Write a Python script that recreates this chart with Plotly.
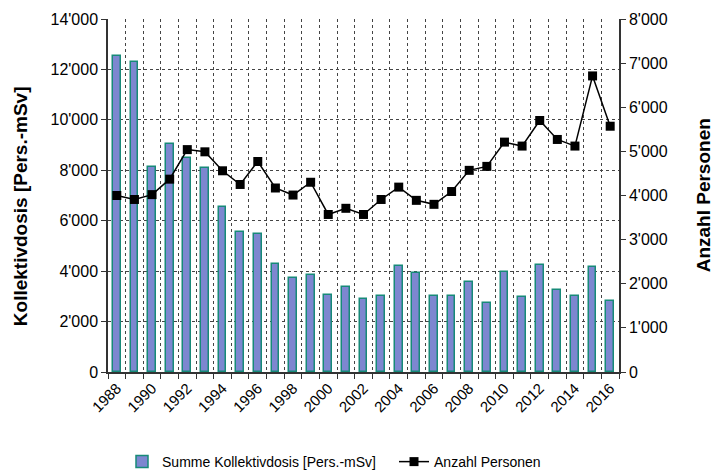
import plotly.graph_objects as go

years = list(range(1988, 2017))
kollektivdosis = [12520, 12300, 8140, 9060, 8500, 8110, 6530, 5540, 5480, 4300,
                  3740, 3850, 3060, 3370, 2900, 3000, 4190, 3930, 3000, 3000,
                  3560, 2740, 3950, 2960, 4250, 3240, 3020, 4170, 2830]
anzahl_personen = [4000, 3910, 4020, 4370, 5040, 4990, 4560, 4250, 4770, 4170,
                   4010, 4300, 3570, 3710, 3570, 3910, 4190, 3890, 3800, 4090,
                   4570, 4660, 5210, 5120, 5700, 5270, 5120, 6710, 5570]
tick_years = list(range(1988, 2017, 2))
tick_labels = [str(y) for y in tick_years]
boundaries = [y + 0.5 for y in range(1987, 2017)]

font_family = "Liberation Sans, Arial, sans-serif"

fig = go.Figure()
fig.add_trace(go.Bar(
    x=years, y=kollektivdosis, name="Summe Kollektivdosis [Pers.-mSv]",
    width=0.44,
    marker=dict(color="#7d87d0", line=dict(color="#178a78", width=1.5)),
    yaxis="y", legend="legend",
))
fig.add_trace(go.Scatter(
    x=years, y=anzahl_personen, name="Anzahl Personen",
    mode="lines+markers",
    line=dict(color="black", width=1.5),
    marker=dict(symbol="square", size=9, color="black"),
    yaxis="y2", legend="legend2",
))

legend_common = dict(orientation="h", xanchor="left", y=-0.255, yanchor="middle",
                     font=dict(size=14), itemwidth=30, bgcolor="rgba(0,0,0,0)")

fig.update_layout(
    width=716, height=471,
    margin=dict(l=108, r=97, t=19, b=99, autoexpand=False),
    paper_bgcolor="white", plot_bgcolor="white",
    separators=".'",
    font=dict(family=font_family, size=16, color="black"),
    showlegend=True,
    legend=dict(x=0.0274, **legend_common),
    legend2=dict(x=0.5597, **legend_common),
    bargap=0,
    xaxis=dict(
        range=[1987.5, 2016.5], automargin=False,
        tickmode="array", tickvals=tick_years, ticktext=tick_labels,
        tickangle=-45, ticks="", showgrid=False,
        showline=True, linecolor="#333", linewidth=1.5,
        tickfont=dict(size=15),
        minor=dict(tickmode="array", tickvals=boundaries, ticks="outside", ticklen=5,
                   tickcolor="#333", showgrid=True, griddash="dot",
                   gridcolor="#444", gridwidth=1),
        zeroline=False,
    ),
    yaxis=dict(
        range=[0, 14000], dtick=2000, tickformat=",d", automargin=False,
        ticks="outside", ticklen=5, tickcolor="#333",
        showline=True, linecolor="#333", linewidth=1.5,
        showgrid=True, griddash="dot", gridcolor="#444", gridwidth=1,
        zeroline=False,
    ),
    yaxis2=dict(
        range=[0, 8000], dtick=1000, tickformat=",d", automargin=False,
        overlaying="y", side="right",
        ticks="outside", ticklen=5, tickcolor="#333",
        showline=True, linecolor="#333", linewidth=1.5,
        showgrid=False, zeroline=False,
    ),
    annotations=[
        dict(text="<b>Kollektivdosis [Pers.-mSv]</b>", textangle=-90,
             xref="paper", yref="paper", x=-0.172, y=0.47,
             xanchor="center", yanchor="middle", showarrow=False,
             font=dict(size=19)),
        dict(text="<b>Anzahl Personen</b>", textangle=-90,
             xref="paper", yref="paper", x=1.166, y=0.5,
             xanchor="center", yanchor="middle", showarrow=False,
             font=dict(size=19)),
    ],
)

fig.write_html("out.html",
               config={"displayModeBar": False},
               post_script="document.body.style.margin='0';document.body.style.padding='0';")
